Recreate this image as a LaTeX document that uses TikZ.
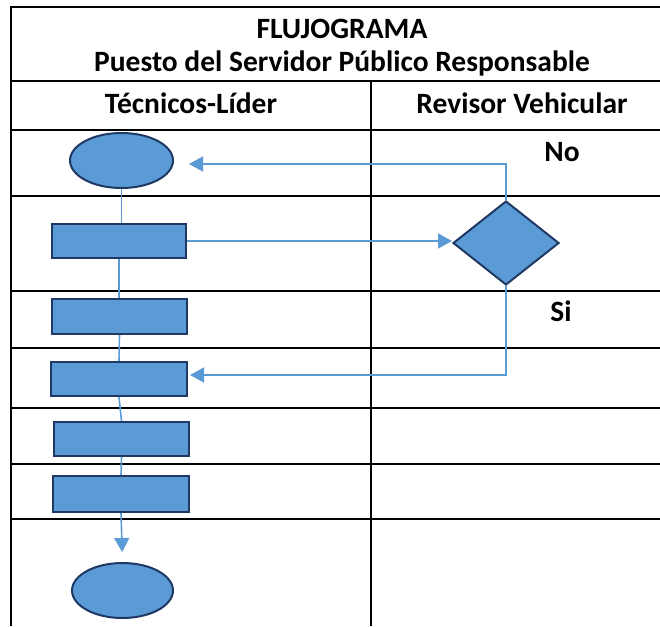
\documentclass[tikz,border=0pt]{standalone}
\usepackage{fontspec}
\setmainfont{Carlito}
\usetikzlibrary{shapes.geometric,arrows.meta,calc}
\definecolor{shapefill}{HTML}{5B9BD5}
\definecolor{shapeedge}{HTML}{203864}
\definecolor{conn}{HTML}{5B9BD5}
\tikzset{
  grid/.style={line width=2pt, black},
  proc/.style={rectangle, draw=shapeedge, fill=shapefill, line width=2pt, inner sep=0pt},
  term/.style={ellipse, draw=shapeedge, fill=shapefill, line width=2pt, inner sep=0pt},
  decis/.style={diamond, draw=shapeedge, fill=shapefill, line width=2pt, inner sep=0pt},
  link/.style={conn, line width=1.6pt},
  arr/.style={link, -{Triangle[length=14pt,width=15pt]}},
  txt/.style={font=\bfseries\fontsize{29.5}{34}\selectfont, inner sep=0pt}
}
\begin{document}
\begin{tikzpicture}[x=1pt,y=-1pt]
\useasboundingbox (0,0) rectangle (660,626);
% table
\draw[grid] (11,7) -- (660,7);
\draw[grid] (11,81) -- (660,81);
\draw[grid] (11,129.5) -- (660,129.5);
\foreach \yy in {196,291,348,407.5,464,519} \draw[grid] (11,\yy) -- (660,\yy);
\draw[grid] (11,6) -- (11,626);
\draw[grid] (371,81) -- (371,626);
% texts
\node[txt] (t1) at (342,29) {FLUJOGRAMA};
\node[txt] (t2) at (342,63) {Puesto del Servidor Público Responsable};
\node[txt] (h1) at (191,103) {Técnicos-Líder};
\node[txt] (h2) at (522,103) {Revisor Vehicular};
\node[txt] (no) at (562,152) {No};
\node[txt] (si) at (561,311) {Si};
% shapes
\node[term, minimum width=103pt, minimum height=55pt] (start) at (121.5,160.5) {};
\node[proc, minimum width=134pt, minimum height=34pt] (r1) at (119,241) {};
\node[proc, minimum width=135pt, minimum height=35pt] (r2) at (119.5,316.5) {};
\node[proc, minimum width=136pt, minimum height=34pt] (r3) at (119,379) {};
\node[proc, minimum width=135pt, minimum height=34pt] (r4) at (121.5,439) {};
\node[proc, minimum width=136pt, minimum height=36pt] (r5) at (121,494) {};
\node[term, minimum width=101pt, minimum height=55pt] (end) at (122.5,590.5) {};
\node[decis, minimum width=106pt, minimum height=84pt] (d) at (506,243) {};
% connectors
\draw[link] (start.south) -- (start.south |- r1.north);
\draw[link] (r1.south) -- (r1.south |- r2.north);
\draw[link] (r2.south) -- (r3.north);
\draw[link] (r3.south) -- (r4.north);
\draw[link] (r4.south) -- (r5.north);
\draw[arr, shorten >=10pt] (r5.south) -- (end.north);
\draw[arr] (r1.east) -- (r1.east -| d.west);
\draw[arr, shorten >=15pt] (d.north) |- ([yshift=-3.5pt]start.east);
\draw[arr, shorten >=2pt] (d.south) |- ([yshift=4pt]r3.east);
\end{tikzpicture}
\end{document}
